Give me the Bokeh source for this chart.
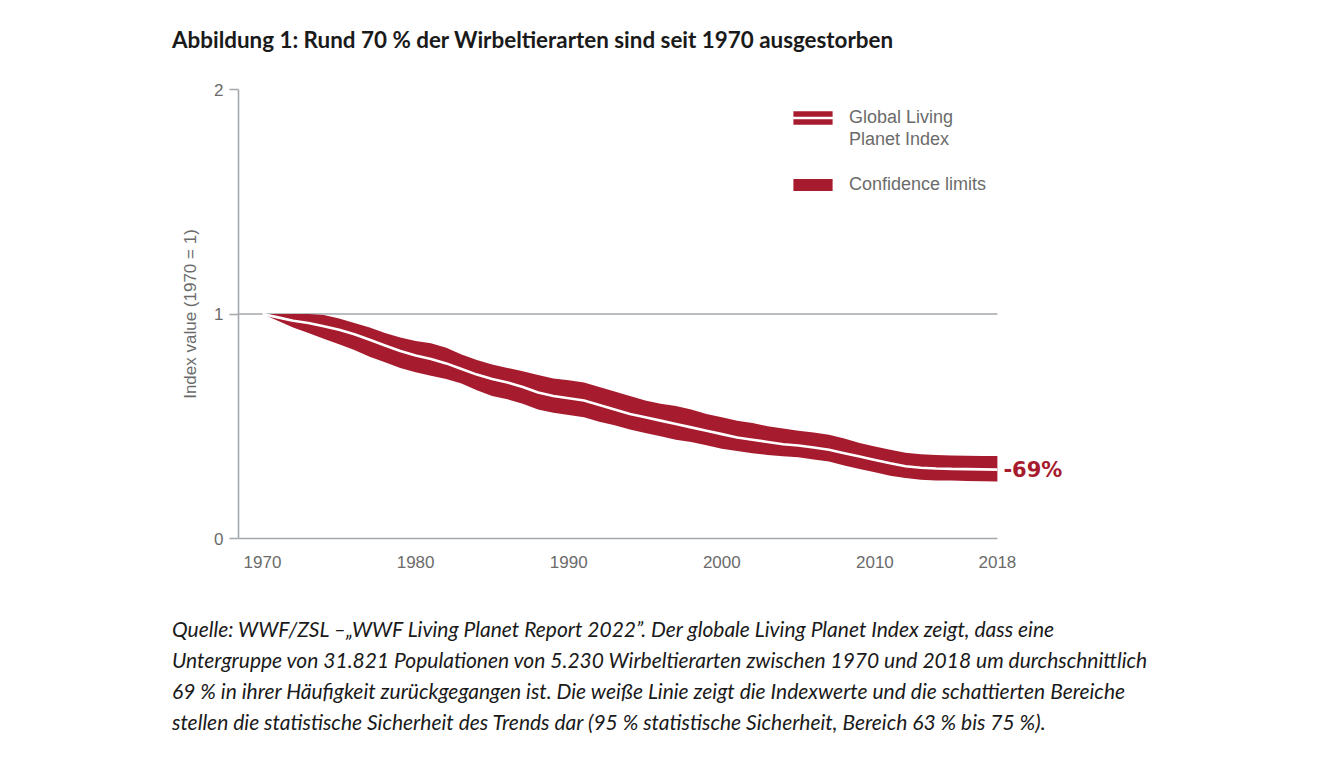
from bokeh.plotting import figure
from bokeh.layouts import column
from bokeh.models import ColumnDataSource, FixedTicker, Label, Legend, LegendItem, Range1d, Div
from bokeh.embed import file_html
from bokeh.resources import INLINE

# ---- data ----
years = list(range(1970, 2019))
lpi_index = [1.0, 0.985, 0.97, 0.96, 0.945, 0.93, 0.91, 0.885, 0.86, 0.835,
             0.815, 0.80, 0.78, 0.755, 0.73, 0.71, 0.695, 0.675, 0.65, 0.635,
             0.625, 0.615, 0.595, 0.575, 0.555, 0.54, 0.525, 0.51, 0.495, 0.48,
             0.465, 0.45, 0.44, 0.43, 0.42, 0.414, 0.405, 0.395, 0.38, 0.365,
             0.35, 0.335, 0.322, 0.315, 0.312, 0.31, 0.309, 0.308, 0.307]
upper = [1.0, 1.0, 1.0, 1.0, 0.995, 0.98, 0.96, 0.94, 0.915, 0.895,
         0.88, 0.87, 0.85, 0.82, 0.795, 0.775, 0.76, 0.745, 0.728, 0.713,
         0.705, 0.695, 0.675, 0.655, 0.635, 0.615, 0.60, 0.59, 0.575, 0.555,
         0.54, 0.525, 0.515, 0.50, 0.49, 0.48, 0.472, 0.462, 0.445, 0.425,
         0.41, 0.395, 0.382, 0.375, 0.372, 0.37, 0.369, 0.368, 0.367]
lower = [1.0, 0.97, 0.94, 0.915, 0.89, 0.865, 0.84, 0.81, 0.785, 0.76,
         0.74, 0.725, 0.71, 0.69, 0.66, 0.635, 0.62, 0.60, 0.575, 0.56,
         0.55, 0.54, 0.52, 0.505, 0.485, 0.47, 0.455, 0.44, 0.43, 0.415,
         0.40, 0.39, 0.38, 0.372, 0.366, 0.362, 0.352, 0.343, 0.325, 0.31,
         0.295, 0.28, 0.27, 0.262, 0.258, 0.258, 0.256, 0.255, 0.254]
x_ticks = [1970, 1980, 1990, 2000, 2010, 2018]
y_ticks = [0, 1, 2]

title_text = "Abbildung 1: Rund 70 % der Wirbeltierarten sind seit 1970 ausgestorben"
caption_lines = [
    "Quelle: WWF/ZSL \u2013\u201eWWF Living Planet Report 2022\u201d. Der globale Living Planet Index zeigt, dass eine",
    "Untergruppe von 31.821 Populationen von 5.230 Wirbeltierarten zwischen 1970 und 2018 um durchschnittlich",
    "69 % in ihrer H\u00e4ufigkeit zur\u00fcckgegangen ist. Die wei\u00dfe Linie zeigt die Indexwerte und die schattierten Bereiche",
    "stellen die statistische Sicherheit des Trends dar (95 % statistische Sicherheit, Bereich 63 % bis 75 %).",
]
legend_lpi_lines = ["Global Living", "Planet Index"]
legend_ci = "Confidence limits"
change_label = "-69%"

RED = "#a71b2e"
AXIS = "#a3a8ad"
TXT = "#6b6b6b"

src = ColumnDataSource(dict(year=years, index=lpi_index, upper=upper, lower=lower))

PX_PER_YEAR = 15.31
X0 = 1970 - 24 / PX_PER_YEAR
X1 = X0 + (1075 - 238) / PX_PER_YEAR

title_div = Div(
    text=(f'<div style="padding-left:172px;padding-top:27px;font-family:Lato;font-weight:700;'
          f'font-size:22.4px;line-height:26px;color:#1a1a1a;white-space:nowrap">{title_text}</div>'),
    width=1300, height=70, margin=0)

p = figure(width=1300, height=520, x_range=Range1d(X0, X1), y_range=Range1d(0, 2),
           output_backend="svg", toolbar_location=None, margin=0,
           min_border_left=238, min_border_right=225, min_border_top=19, min_border_bottom=52)
p.outline_line_color = None

# axes
p.xaxis.ticker = FixedTicker(ticks=x_ticks)
p.xaxis.bounds = (X0, years[-1])
p.xaxis.major_tick_out = 0
p.xaxis.major_tick_in = 0
p.xaxis.minor_tick_out = 0
p.xaxis.minor_tick_in = 0
p.xaxis.major_label_standoff = 17
p.yaxis.ticker = FixedTicker(ticks=y_ticks)
p.yaxis.bounds = (0, 2)
p.yaxis.major_tick_out = 9
p.yaxis.major_tick_in = 0
p.yaxis.minor_tick_out = 0
p.yaxis.minor_tick_in = 0
p.yaxis.major_label_standoff = 6
p.yaxis.axis_label = "Index value (1970 = 1)"
p.yaxis.axis_label_standoff = 11
p.yaxis.axis_label_text_font_style = "normal"
p.yaxis.axis_label_text_font_size = "17px"
p.yaxis.axis_label_text_color = TXT
p.yaxis.axis_label_text_font = "Liberation Sans"
for ax in (p.xaxis, p.yaxis):
    ax.axis_line_color = AXIS
    ax.axis_line_width = 1.6
    ax.major_tick_line_color = AXIS
    ax.major_tick_line_width = 1.6
    ax.major_label_text_color = TXT
    ax.major_label_text_font_size = "17px"
    ax.major_label_text_font = "Liberation Sans"

p.xgrid.grid_line_color = None
p.ygrid.grid_line_color = None

# reference line at the base value (1970 = 1)
p.segment(x0=X0, y0=lpi_index[0], x1=years[-1], y1=lpi_index[0], line_color=AXIS, line_width=1.6)

# data marks
band = p.varea(x="year", y1="lower", y2="upper", source=src, fill_color=RED)
white = p.line(x="year", y="index", source=src, line_color="white", line_width=2.6)
blank = p.line(x=[], y=[], line_alpha=0)

def style_legend(lg, gh):
    lg.glyph_width = 49
    lg.glyph_height = gh
    lg.label_height = 22
    lg.label_standoff = 12
    lg.spacing = 0
    lg.padding = 0
    lg.margin = 0
    lg.border_line_alpha = 0
    lg.background_fill_alpha = 0
    lg.label_text_font = "Liberation Sans"
    lg.label_text_font_size = "18px"
    lg.label_text_color = TXT

legend1 = Legend(items=[
    LegendItem(label=legend_lpi_lines[0], renderers=[band, white]),
    LegendItem(label=legend_lpi_lines[1], renderers=[blank]),
], location=(550, 388), orientation="vertical")
style_legend(legend1, 17)
legend2 = Legend(items=[
    LegendItem(label=legend_ci, renderers=[band]),
], location=(550, 343), orientation="vertical")
style_legend(legend2, 15)
p.add_layout(legend1)
p.add_layout(legend2)

# end label
p.add_layout(Label(x=years[-1], y=lpi_index[-1], text=change_label, x_offset=6,
                   text_baseline="middle", text_color=RED, text_font_style="bold",
                   text_font_size="21px", text_font="DejaVu Sans"))

caption_html = "<br>".join(caption_lines)
caption_div = Div(
    text=(f'<div style="padding-left:172px;padding-top:23px;font-family:Lato;font-style:italic;'
          f'font-size:21px;line-height:31px;color:#1a1a1a;white-space:nowrap">{caption_html}</div>'),
    width=1300, height=170, margin=0)

layout = column(title_div, p, caption_div, spacing=0)
open("out.html", "w").write(file_html(layout, INLINE))
